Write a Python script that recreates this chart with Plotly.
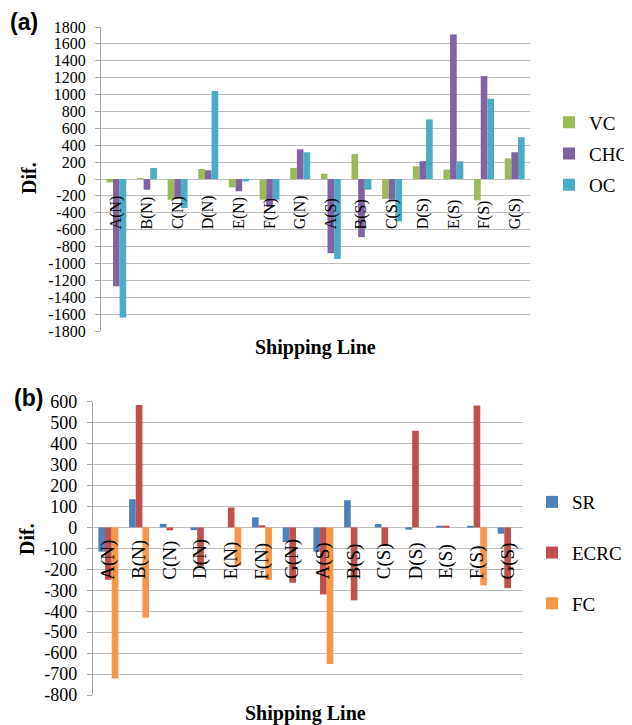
import plotly.graph_objects as go

categories = ["A(N)", "B(N)", "C(N)", "D(N)", "E(N)", "F(N)", "G(N)",
              "A(S)", "B(S)", "C(S)", "D(S)", "E(S)", "F(S)", "G(S)"]

# Panel (a)
vc = [-40, 10, -245, 119, -99, -245, 131, 63, 297, -234, 150, 111, -253, 245]
chc = [-1270, -127, -220, 103, -146, -332, 352, -879, -689, -245, 210, 1710, 1219, 317]
oc = [-1640, 131, -344, 1041, -28, -245, 317, -946, -127, -503, 705, 210, 950, 495]

# Panel (b)
sr = [-116, 134, 17, -13, 0, 48, -70, -116, 129, 16, -11, 5, 5, -30]
ecrc = [-250, 584, -14, -185, 95, 10, -264, -320, -348, -87, 461, 5, 582, -290]
fc = [-721, -431, 0, 0, -183, -251, 0, -652, 0, 0, 0, 0, -277, 0]

ticks_a = list(range(-1800, 1801, 200))
ticks_b = list(range(-800, 601, 100))

W, H = 632, 725
OFF = 8  # page body margin
serif = "Liberation Serif"

fig = go.Figure()

series_a = [("VC", vc, "#9BBB59"), ("CHC", chc, "#8064A2"), ("OC", oc, "#4BACC6")]
series_b = [("SR", sr, "#4F81BD"), ("ECRC", ecrc, "#C0504D"), ("FC", fc, "#F79646")]

for name, vals, col in series_a:
    fig.add_trace(go.Bar(x=categories, y=vals, name=name, marker_color=col,
                         marker_line_width=0, xaxis="x", yaxis="y",
                         legend="legend", legendgroup=name))
for name, vals, col in series_b:
    fig.add_trace(go.Bar(x=categories, y=vals, name=name, marker_color=col,
                         marker_line_width=0, xaxis="x2", yaxis="y2",
                         legend="legend2", legendgroup=name))


def px_x(v):
    return (v - OFF) / W


def px_y(v):
    return 1 - (v - OFF) / H


grid = "#BEBEBE"
yax_common = dict(showgrid=True, gridcolor=grid, gridwidth=1.2,
                  zeroline=True, zerolinecolor=grid, zerolinewidth=1.2,
                  showline=True, linecolor="#A6A6A6", linewidth=1.2,
                  ticks="outside", ticklen=5, tickcolor="#A6A6A6",
                  ticklabelstandoff=6, fixedrange=True, automargin=False)
xax_common = dict(showticklabels=False, showgrid=False, zeroline=False,
                  showline=False, ticks="", fixedrange=True, automargin=False)

fig.update_layout(
    width=W, height=H,
    margin=dict(l=0, r=0, t=0, b=0, pad=0, autoexpand=False),
    paper_bgcolor="white", plot_bgcolor="white",
    barmode="group", bargap=0.35, bargroupgap=0,
    xaxis=dict(domain=[px_x(101), px_x(530)], anchor="y", **xax_common),
    yaxis=dict(domain=[px_y(331), px_y(27)], anchor="x", range=[-1800, 1800],
               tickvals=ticks_a, ticktext=[str(t) for t in ticks_a],
               tickfont=dict(family=serif, size=16, color="black"), **yax_common),
    xaxis2=dict(domain=[px_x(93), px_x(523)], anchor="y2", **xax_common),
    yaxis2=dict(domain=[px_y(695), px_y(401.7)], anchor="x2", range=[-800, 600],
                tickvals=ticks_b, ticktext=[str(t) for t in ticks_b],
                tickfont=dict(family=serif, size=18, color="black"), **yax_common),
    legend=dict(x=px_x(549), y=px_y(154), xanchor="left", yanchor="middle",
                font=dict(family=serif, size=19, color="black"),
                traceorder="grouped", tracegroupgap=3.5, itemwidth=30,
                bgcolor="rgba(0,0,0,0)"),
    legend2=dict(x=px_x(532), y=px_y(553), xanchor="left", yanchor="middle",
                 font=dict(family=serif, size=19, color="black"),
                 traceorder="grouped", tracegroupgap=23, itemwidth=30,
                 bgcolor="rgba(0,0,0,0)"),
    showlegend=True,
)

annots = []
# category labels along the zero line
for c in categories:
    annots.append(dict(x=c, y=0, xref="x", yref="y", text=c, showarrow=False,
                       textangle=-90, xanchor="center", yanchor="bottom", yshift=-52,
                       font=dict(family=serif, size=16, color="black")))
    annots.append(dict(x=c, y=0, xref="x2", yref="y2", text=c, showarrow=False,
                       textangle=-90, xanchor="center", yanchor="bottom", yshift=-54,
                       font=dict(family=serif, size=19, color="black")))

paper_text = [
    ("<b>(a)</b>", 24, 22, 0, "Liberation Sans", 23),
    ("<b>(b)</b>", 28, 398, 0, "Liberation Sans", 23),
    ("<b>Shipping Line</b>", 315, 347, 0, serif, 20),
    ("<b>Shipping Line</b>", 305, 713, 0, serif, 20),
    ("<b>Dif.</b>", 29, 178, -90, serif, 20),
    ("<b>Dif.</b>", 27, 539, -90, serif, 20),
]
for txt, xx, yy, ang, fam, sz in paper_text:
    annots.append(dict(x=px_x(xx), y=px_y(yy), xref="paper", yref="paper", text=txt,
                       showarrow=False, textangle=ang, xanchor="center", yanchor="middle",
                       font=dict(family=fam, size=sz, color="black")))

fig.update_layout(annotations=annots)

fig.write_html("out.html")
